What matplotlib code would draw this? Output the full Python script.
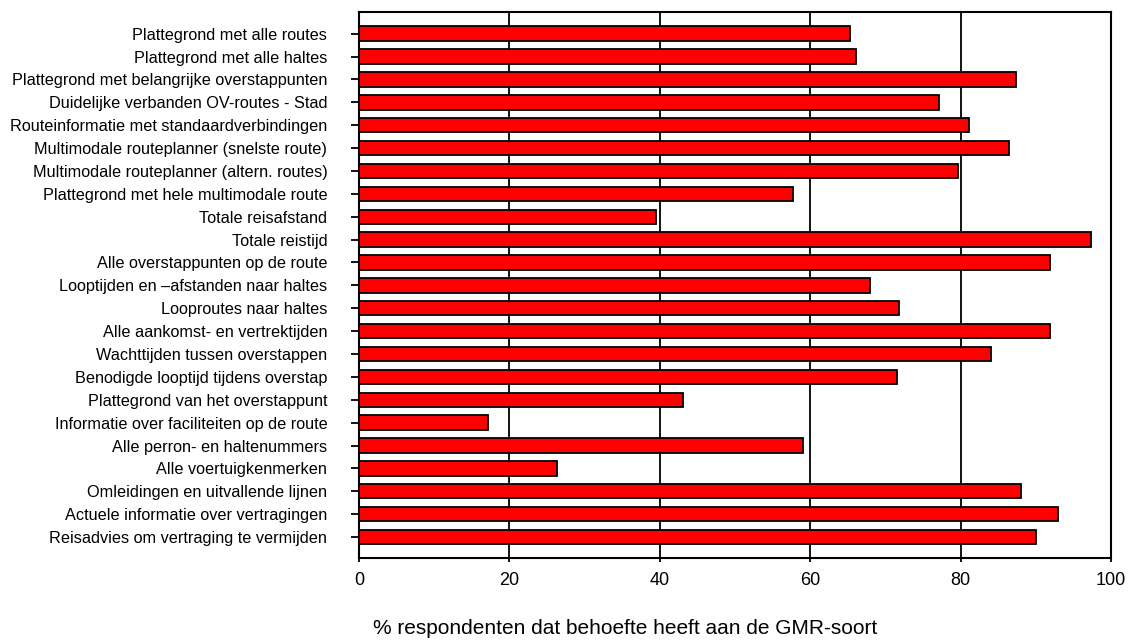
import matplotlib
matplotlib.use("Agg")
import matplotlib.pyplot as plt

plt.rcParams['font.family'] = ['Liberation Sans', 'DejaVu Sans']

categories = [
    "Plattegrond met alle routes",
    "Plattegrond met alle haltes",
    "Plattegrond met belangrijke overstappunten",
    "Duidelijke verbanden OV-routes - Stad",
    "Routeinformatie met standaardverbindingen",
    "Multimodale routeplanner (snelste route)",
    "Multimodale routeplanner (altern. routes)",
    "Plattegrond met hele multimodale route",
    "Totale reisafstand",
    "Totale reistijd",
    "Alle overstappunten op de route",
    "Looptijden en \u2013afstanden naar haltes",
    "Looproutes naar haltes",
    "Alle aankomst- en vertrektijden",
    "Wachttijden tussen overstappen",
    "Benodigde looptijd tijdens overstap",
    "Plattegrond van het overstappunt",
    "Informatie over faciliteiten op de route",
    "Alle perron- en haltenummers",
    "Alle voertuigkenmerken",
    "Omleidingen en uitvallende lijnen",
    "Actuele informatie over vertragingen",
    "Reisadvies om vertraging te vermijden",
]
percentages = [65.3, 66.1, 87.4, 77.2, 81.1, 86.5, 79.6, 57.7, 39.5, 97.3,
               91.9, 67.9, 71.8, 91.9, 84.1, 71.5, 43.1, 17.1, 59.0, 26.3,
               88.0, 92.9, 90.1]
x_ticks = [0, 20, 40, 60, 80, 100]
x_label = "% respondenten dat behoefte heeft aan de GMR-soort"

fig = plt.figure(figsize=(11.29, 6.40), dpi=100)
ax = fig.add_axes([0.318, 0.128, 0.666, 0.853])

pos = list(range(len(categories)))
ax.barh(pos, percentages, height=0.63, color='#ff0000', edgecolor='black',
        linewidth=1.3, zorder=3)

ax.set_xlim(0, 100)
ax.set_ylim(len(categories) - 1 + 0.92, -0.94)
ax.set_yticks(pos)
ax.set_yticklabels(categories, fontsize=11.7)
ax.set_xticks(x_ticks)
ax.set_xticklabels([str(t) for t in x_ticks], fontsize=13)
ax.tick_params(axis='y', length=5.8, width=1.3, pad=17)
ax.tick_params(axis='x', length=3, width=1.3, pad=7)
ax.grid(axis='x', color='black', linewidth=1.3, zorder=0)
for s in ax.spines.values():
    s.set_linewidth(1.5)

fig.text(0.33, 0.009, x_label, fontsize=15, ha='left', va='baseline')

fig.savefig("out.png", dpi=100)
